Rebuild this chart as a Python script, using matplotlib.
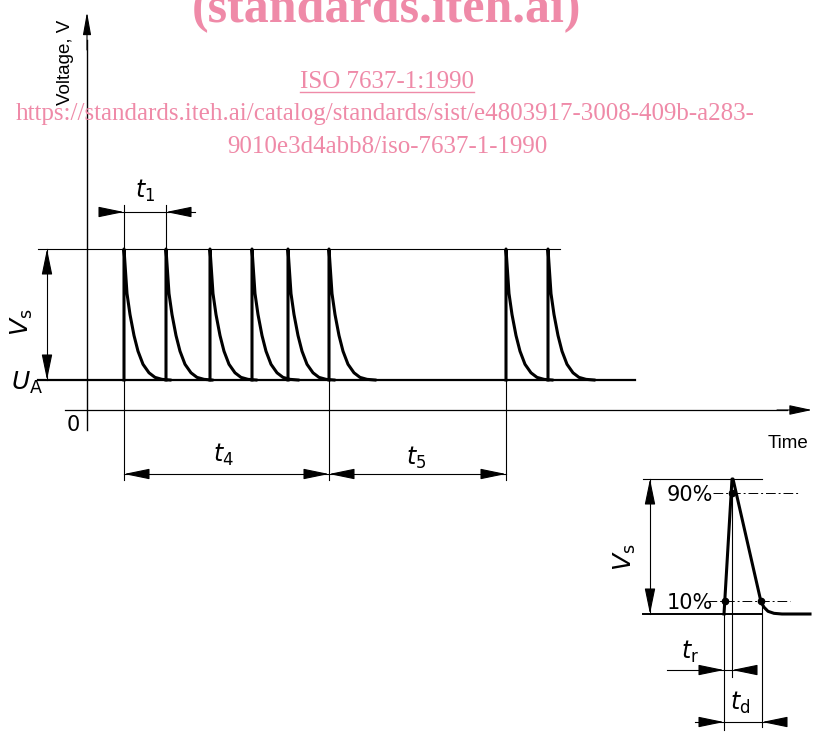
import numpy as np
import matplotlib.pyplot as plt

# pulse train, time and voltage in drawing units (origin = axes crossing)
pulse_times = [37, 79, 123, 165, 201, 242, 419, 461]
U_A = 30
V_s = 131
t_end = 548          # end of the U_A line
t_top_end = 473      # end of the V_s reference line

# shape of one decaying pulse
decay_dt = [0, 3, 6, 10, 14, 19, 25, 31, 38, 46]
decay_frac = [1.0, 0.66, 0.5, 0.34, 0.22, 0.12, 0.055, 0.02, 0.005, 0.0]

# single pulse detail (voltage normalised to V_s)
rise_t = [0, 8]
rise_v = [0.0, 1.0]
fall_t = [9, 37, 40, 44, 50, 58, 86]
fall_v = [1.0, 0.09, 0.05, 0.02, 0.005, 0.0, 0.0]
lvl_lo, lvl_hi = 0.1, 0.9
t_r = 8
t_d = 38

pink = '#ef8aa8'
serif = 'Liberation Serif'

fig = plt.figure(figsize=(8.13, 7.32), dpi=100)
ax = fig.add_axes([0, 0, 1, 1])
ax.set_xlim(-87, 726)
ax.set_ylim(-322, 410)
ax.axis('off')

top = U_A + V_s


def arrow(a, tip, tail, hl=1.6, hw=0.33):
    a.annotate('', xy=tip, xytext=tail,
               arrowprops=dict(arrowstyle='-|>,head_length=%g,head_width=%g' % (hl, hw),
                               color='k', lw=0.8, shrinkA=0, shrinkB=0))


def lab(a, x, y, s, size=17, rot=0):
    a.text(x, y, s, fontsize=size, rotation=rot, ha='center', va='center')


# axes
ax.plot([-22, 700], [0, 0], color='k', lw=0.9)
arrow(ax, (725, 0), (690, 0), hl=1.4, hw=0.3)
ax.plot([0, 0], [-20, 370], color='k', lw=1.0)
arrow(ax, (0, 398), (0, 360), hl=1.4, hw=0.25)

# reference levels
ax.plot([-49, t_end], [U_A, U_A], color='k', lw=1.6)
ax.plot([-49, t_top_end], [top, top], color='k', lw=0.8)

# pulses
dt = np.array(decay_dt)
fr = np.array(decay_frac)
for t0 in pulse_times:
    ax.plot([t0, t0] + list(t0 + dt), [U_A, top] + list(U_A + V_s * fr),
            color='k', lw=2.2, solid_joinstyle='round')
    ax.fill([t0, t0 + dt[1], t0],
            [top, U_A + V_s * fr[1], U_A + V_s * fr[1]],
            color='k', lw=0)

# t1 dimension
t1a, t1b = pulse_times[0], pulse_times[1]
for t in (t1a, t1b):
    ax.plot([t, t], [top, top + 44], color='k', lw=0.8)
ax.plot([t1a - 24, t1b + 29], [top + 37, top + 37], color='k', lw=0.8)
arrow(ax, (t1a, top + 37), (t1a - 24, top + 37))
arrow(ax, (t1b, top + 37), (t1b + 25, top + 37))
lab(ax, (t1a + t1b) / 2, top + 58, r'$\mathit{t}_\mathregular{1}$')

# t4 / t5 dimension
t4a, t4b, t5b = pulse_times[0], pulse_times[5], pulse_times[6]
for t in (t4a, t4b, t5b):
    ax.plot([t, t], [U_A, -70], color='k', lw=0.8)
ax.plot([t4a, t5b], [-64, -64], color='k', lw=0.8)
arrow(ax, (t4a, -64), (t4a + 24, -64))
arrow(ax, (t4b, -64), (t4b - 24, -64))
arrow(ax, (t4b, -64), (t4b + 24, -64))
arrow(ax, (t5b, -64), (t5b - 24, -64))
lab(ax, (t4a + t4b) / 2 - 3, -45, r'$\mathit{t}_\mathregular{4}$')
lab(ax, (t4b + t5b) / 2 - 1, -48, r'$\mathit{t}_\mathregular{5}$')

# V_s dimension
ax.plot([-40, -40], [U_A, top], color='k', lw=0.8)
arrow(ax, (-40, top), (-40, top - 24))
arrow(ax, (-40, U_A), (-40, U_A + 24))
lab(ax, -65, U_A + V_s / 2 - 8, r'$\mathit{V}_\mathregular{s}$', size=18, rot=90)
lab(ax, -60, U_A - 3, r'$\mathit{U}_\mathregular{A}$', size=18)
lab(ax, -14, -15, '0', size=15)

ax.text(-22, 348, 'Voltage, V', rotation=90, fontsize=13.5, family='Liberation Sans',
        ha='center', va='center')
ax.text(701, -33, 'Time', fontsize=13.5, family='Liberation Sans', ha='center', va='center')

# single pulse detail
ax2 = fig.add_axes([0, 0, 1, 1])
ax2.set_xlim(-724, 89)
ax2.set_ylim(-0.874, 4.548)
ax2.axis('off')
ax2.patch.set_alpha(0)

ax2.plot([-81, t_d], [0, 0], color='k', lw=1.4)
ax2.plot([-81, t_d], [1, 1], color='k', lw=0.8)
ax2.plot(rise_t + fall_t, rise_v + fall_v, color='k', lw=2.2, solid_joinstyle='round')
ax2.plot([-11, 76], [lvl_hi, lvl_hi], color='k', lw=0.7, ls=(0, (10, 3, 2, 3)))
ax2.plot([-17, 66], [lvl_lo, lvl_lo], color='k', lw=0.7, ls=(0, (10, 3, 2, 3)))
ax2.plot([rise_t[0] + 0.8, t_r, t_d - 1], [lvl_lo, lvl_hi, lvl_lo], 'o', color='k', ms=4.5)

ax2.plot([-74, -74], [0, 1], color='k', lw=0.8)
arrow(ax2, (-74, 1), (-74, 0.82))
arrow(ax2, (-74, 0), (-74, 0.18))
lab(ax2, -99, 0.42, r'$\mathit{V}_\mathregular{s}$', size=18, rot=90)
lab(ax2, -34, lvl_hi - 0.02, '90%', size=15)
lab(ax2, -34, lvl_lo - 0.02, '10%', size=15)

ax2.plot([0, 0], [lvl_lo, -0.86], color='k', lw=0.8)
ax2.plot([t_r, t_r], [lvl_hi, -0.47], color='k', lw=0.8)
ax2.plot([t_d, t_d], [lvl_lo, -0.84], color='k', lw=0.8)

ax2.plot([-57, t_r + 23], [-0.415, -0.415], color='k', lw=0.8)
arrow(ax2, (0, -0.415), (-24, -0.415))
arrow(ax2, (t_r, -0.415), (t_r + 23, -0.415))
lab(ax2, -34, -0.28, r'$\mathit{t}_\mathregular{r}$')

ax2.plot([-29, t_d + 21], [-0.8, -0.8], color='k', lw=0.8)
arrow(ax2, (0, -0.8), (-24, -0.8))
arrow(ax2, (t_d, -0.8), (t_d + 21, -0.8))
lab(ax2, 16, -0.66, r'$\mathit{t}_\mathregular{d}$')

# watermark text
ax.text(299, 388, '(standards.iteh.ai)', fontsize=36, fontweight='bold', family=serif,
        color=pink, ha='center', va='baseline', zorder=5)
iso = ax.text(300, 328, 'ISO 7637-1:1990', fontsize=18, family=serif, color=pink,
              ha='center', va='center', zorder=5)
ax.text(298, 296, 'https://standards.iteh.ai/catalog/standards/sist/e4803917-3008-409b-a283-',
        fontsize=18, family=serif, color=pink, ha='center', va='center', zorder=5)
ax.text(300, 263, '9010e3d4abb8/iso-7637-1-1990', fontsize=18, family=serif, color=pink,
        ha='center', va='center', zorder=5)

fig.canvas.draw()
bb = iso.get_window_extent().transformed(fig.transFigure.inverted())
fig.add_artist(plt.Line2D([bb.x0, bb.x1], [bb.y0 + 0.002, bb.y0 + 0.002],
                          color=pink, lw=1.0, transform=fig.transFigure))

fig.savefig('out.png', dpi=100)
